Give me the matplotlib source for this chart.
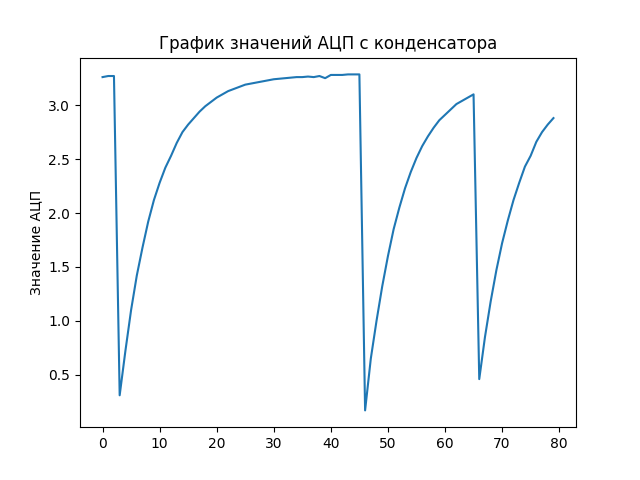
import matplotlib
matplotlib.use("Agg")
import matplotlib.pyplot as plt

values = [3.26, 3.27, 3.27,
          0.31, 0.72, 1.1, 1.42, 1.68, 1.92, 2.12, 2.28, 2.42, 2.53, 2.65, 2.75, 2.82, 2.88, 2.94,
          2.99, 3.03, 3.07, 3.10, 3.13, 3.15, 3.17, 3.19, 3.20, 3.21, 3.22, 3.23, 3.24, 3.245, 3.25,
          3.255, 3.26, 3.26, 3.265, 3.26, 3.27, 3.25, 3.28, 3.28, 3.28, 3.285, 3.285, 3.285,
          0.17, 0.65, 1.0, 1.32, 1.6, 1.85, 2.05, 2.23, 2.38, 2.51, 2.62, 2.71, 2.79, 2.86, 2.91,
          2.96, 3.01, 3.04, 3.07, 3.10,
          0.46, 0.85, 1.18, 1.47, 1.72, 1.93, 2.12, 2.28, 2.43, 2.53, 2.66, 2.75, 2.82, 2.88]

fig, ax = plt.subplots(figsize=(6.4, 4.8), dpi=100)
ax.plot(range(len(values)), values)
ax.set_title("График значений АЦП с конденсатора")
ax.set_ylabel("Значение АЦП")
fig.savefig("out.png")
